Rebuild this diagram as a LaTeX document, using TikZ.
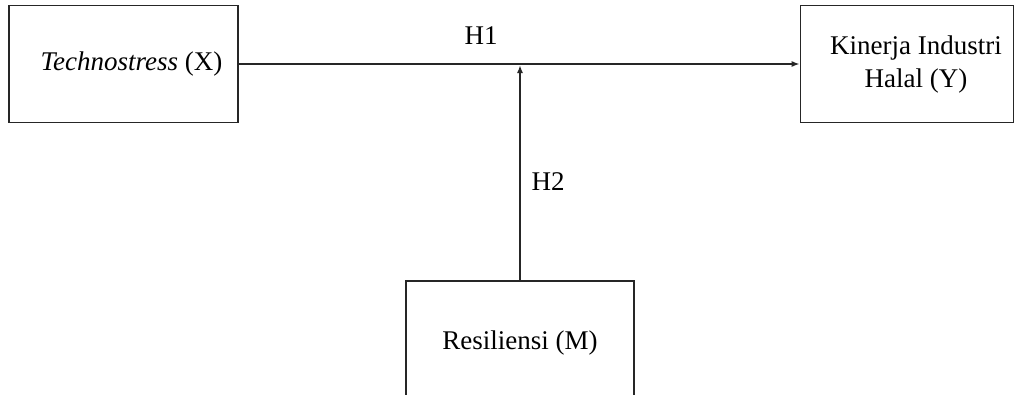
\documentclass[tikz,border=0pt]{standalone}
\usepackage{fontspec}
\setmainfont{Liberation Serif}
\usetikzlibrary{arrows.meta}
\begin{document}
\begin{tikzpicture}[x=1pt,y=-1pt,
  box/.style={draw=black!85,line width=1.6pt,rectangle,inner sep=0pt,align=center,font=\fontsize{27}{33}\selectfont},
  conn/.style={draw=black!85,line width=1.8pt,-{Latex[length=8pt,width=6pt]}},
  lbl/.style={font=\fontsize{27}{33}\selectfont,inner sep=0pt}]
\useasboundingbox (0,0) rectangle (1017,394);
\fill[white] (0,0) rectangle (1017,394);
\node[box,minimum width=229pt,minimum height=117pt] (x) at (123.5,64) {\hspace*{16pt}\textit{Technostress} (X)};
\node[box,minimum width=213pt,minimum height=117pt] (y) at (907,64) {\hspace*{18pt}\raisebox{-3pt}{\begin{tabular}{@{}c@{}}Kinerja Industri\\Halal (Y)\end{tabular}}};
\node[box,minimum width=228pt,minimum height=124pt] (m) at (520,343) {Resiliensi (M)};
\coordinate (j) at (520,65);
\draw[conn] (x.east) -- (y.west);
\draw[conn] (m.north) -- (j);
\node[lbl] (h1) at (481,36) {H1};
\node[lbl] (h2) at (548,182) {H2};
\end{tikzpicture}
\end{document}
